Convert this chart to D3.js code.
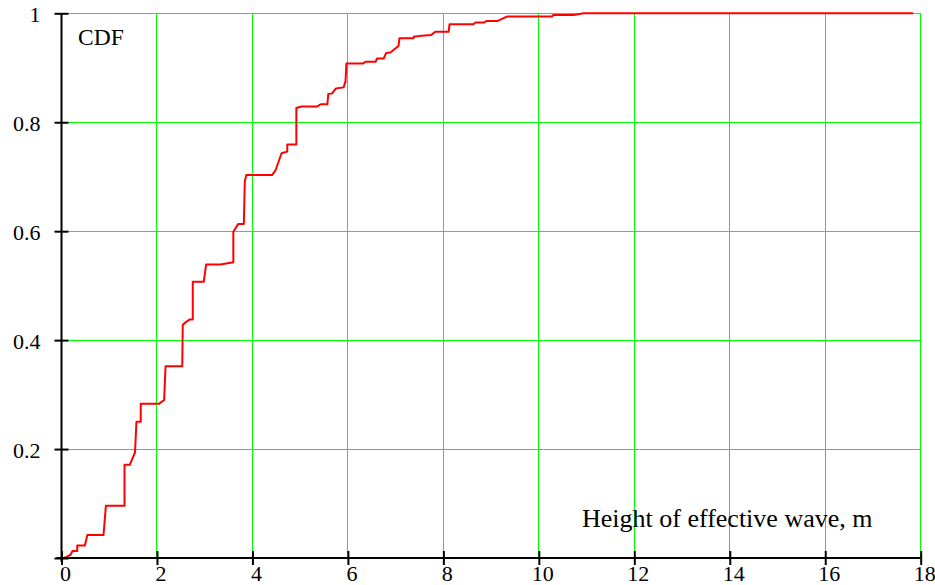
<!DOCTYPE html>
<html>
<head>
<meta charset="utf-8">
<script src="https://cdn.jsdelivr.net/npm/d3@7"></script>
<style>
  html, body { margin: 0; padding: 0; background: #ffffff; }
  svg { display: block; }
  text { font-family: "Liberation Serif", "Times New Roman", serif; fill: #000; }
</style>
</head>
<body>
<svg id="chart" width="935" height="585"></svg>
<script>
// Empirical CDF of effective wave height: polyline vertices (height in m, cumulative probability)
const heightM = [
  0.05, 0.11, 0.19, 0.23, 0.33, 0.33, 0.49, 0.54, 0.88, 0.93,
  1.32, 1.32, 1.43, 1.54, 1.57, 1.66, 1.66, 2.04, 2.15, 2.18,
  2.53, 2.54, 2.62, 2.69, 2.75, 2.75, 2.98, 3.03, 3.33, 3.60,
  3.60, 3.65, 3.70, 3.82, 3.84, 3.87, 4.41, 4.48, 4.61, 4.73,
  4.73, 4.92, 4.92, 5.03, 5.36, 5.43, 5.57, 5.59, 5.67, 5.75,
  5.91, 5.95, 5.97, 6.32, 6.37, 6.58, 6.61, 6.75, 6.80, 6.89,
  7.06, 7.08, 7.37, 7.38, 7.55, 7.74, 7.83, 8.11, 8.13, 8.63,
  8.67, 8.86, 8.90, 9.14, 9.33, 10.28, 10.30, 10.73, 10.94, 17.84
];
const cdfValues = [
  0.000, 0.002, 0.006, 0.013, 0.013, 0.023, 0.023, 0.042, 0.042, 0.096,
  0.096, 0.171, 0.171, 0.194, 0.250, 0.250, 0.283, 0.283, 0.290, 0.352,
  0.352, 0.428, 0.434, 0.438, 0.438, 0.507, 0.507, 0.539, 0.539, 0.543,
  0.599, 0.606, 0.613, 0.613, 0.691, 0.703, 0.703, 0.711, 0.743, 0.746,
  0.759, 0.759, 0.826, 0.829, 0.829, 0.833, 0.833, 0.852, 0.853, 0.862,
  0.864, 0.875, 0.908, 0.908, 0.911, 0.911, 0.917, 0.917, 0.927, 0.928,
  0.940, 0.954, 0.954, 0.957, 0.959, 0.960, 0.966, 0.966, 0.980, 0.980,
  0.983, 0.983, 0.986, 0.986, 0.994, 0.994, 0.997, 0.997, 1.000, 1.000
];

const xTicks = [0, 2, 4, 6, 8, 10, 12, 14, 16, 18];
const yTicks = [0, 0.2, 0.4, 0.6, 0.8, 1];
const yTickLabels = ["", "0.2", "0.4", "0.6", "0.8", "1"];
const yTitle = "CDF";
const xTitle = "Height of effective wave, m";

const svg = d3.select("#chart");
svg.append("rect").attr("width", 935).attr("height", 585).attr("fill", "#ffffff");

const x = d3.scaleLinear().domain([0, 18]).range([61.5, 920.7]);
const y = d3.scaleLinear().domain([0, 1]).range([558, 13.3]);

const gridColor = "#00ff00";

// grid
const grid = svg.append("g").attr("shape-rendering", "crispEdges");
grid.selectAll("line.v")
  .data(xTicks.filter(d => d > 0))
  .join("line")
  .attr("class", "v")
  .attr("x1", d => x(d)).attr("x2", d => x(d))
  .attr("y1", y(1)).attr("y2", y(0))
  .attr("stroke", gridColor).attr("stroke-width", 1);
grid.selectAll("line.h")
  .data(yTicks.filter(d => d > 0))
  .join("line")
  .attr("class", "h")
  .attr("x1", x(0)).attr("x2", x(18))
  .attr("y1", d => y(d)).attr("y2", d => y(d))
  .attr("stroke", gridColor).attr("stroke-width", 1);

// CDF curve
const pts = heightM.map((h, i) => [h, cdfValues[i]]);
svg.append("path")
  .datum(pts)
  .attr("fill", "none")
  .attr("stroke", "#ff0000")
  .attr("stroke-width", 2)
  .attr("stroke-linejoin", "round")
  .attr("d", d3.line().x(d => x(d[0])).y(d => y(d[1])));

// axes
const xAxis = svg.append("g")
  .attr("transform", `translate(0,${y(0)})`)
  .call(d3.axisBottom(x).tickValues(xTicks).tickFormat(d3.format("d")).tickSizeOuter(0));
xAxis.select(".domain").attr("stroke", "#000").attr("stroke-width", 2)
  .attr("d", `M${x(0) - 5},0H${x(18)}`);
xAxis.selectAll(".tick line").attr("stroke", "#000").attr("stroke-width", 2)
  .attr("y1", -7).attr("y2", 7);
xAxis.selectAll(".tick text")
  .attr("font-size", 22).attr("font-family", "Liberation Serif, serif")
  .attr("dy", null).attr("y", 23).attr("x", 3.5)
  .attr("fill", "#000");

const yAxis = svg.append("g")
  .attr("transform", `translate(${x(0)},0)`)
  .call(d3.axisLeft(y).tickValues(yTicks).tickFormat((d, i) => yTickLabels[i]).tickSizeOuter(0));
yAxis.select(".domain").attr("stroke", "#000").attr("stroke-width", 2)
  .attr("d", `M0,${y(1)}V${y(0) + 4}`);
yAxis.selectAll(".tick line").attr("stroke", "#000").attr("stroke-width", 2)
  .attr("x1", -7).attr("x2", 7);
yAxis.selectAll(".tick text")
  .attr("font-size", 22).attr("font-family", "Liberation Serif, serif")
  .attr("dy", null).attr("y", 8).attr("x", -21)
  .attr("fill", "#000");

// titles inside the plot
svg.append("text")
  .attr("x", 78).attr("y", 45)
  .attr("font-size", 23.5)
  .text(yTitle);
svg.append("text")
  .attr("x", 582).attr("y", 527)
  .attr("font-size", 26)
  .text(xTitle);
</script>
</body>
</html>
